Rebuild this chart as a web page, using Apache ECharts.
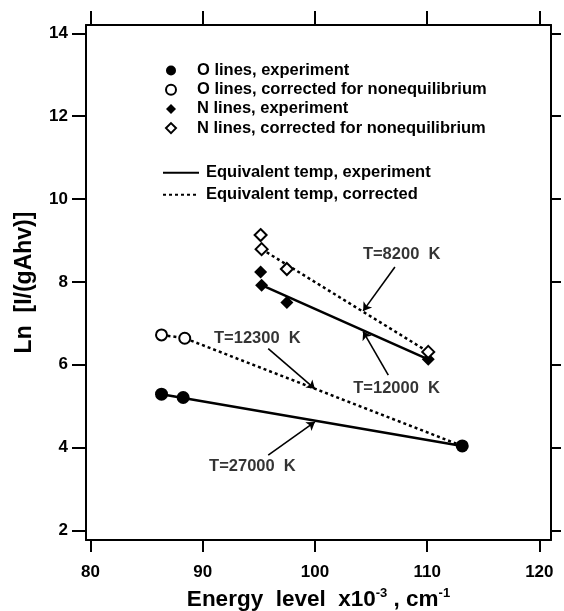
<!DOCTYPE html>
<html><head><meta charset="utf-8">
<script src="https://cdn.jsdelivr.net/npm/echarts@6/dist/echarts.min.js"></script>
<style>html,body{margin:0;padding:0;background:#fff}#c{width:564px;height:611px}</style>
</head><body><div id="c"></div>
<script>
// Tick values
const xTicks = [80, 90, 100, 110, 120];
const yTicks = [2, 4, 6, 8, 10, 12, 14];

// Series names
const nameOExp = 'O lines, experiment';
const nameOCor = 'O lines, corrected for nonequilibrium';
const nameNExp = 'N lines, experiment';
const nameNCor = 'N lines, corrected for nonequilibrium';
const nameTExp = 'Equivalent temp, experiment';
const nameTCor = 'Equivalent temp, corrected';

// Measured points (energy level x1e-3 cm^-1, Ln[I/(gAhv)])
const oExpX = [86.33, 88.26, 113.13];
const oExpY = [5.29, 5.21, 4.04];
const oCorX = [86.33, 88.4];
const oCorY = [6.72, 6.64];
const nExpX = [95.16, 95.25, 97.5, 110.1];
const nExpY = [8.24, 7.92, 7.5, 6.13];
const nCorX = [95.16, 95.25, 97.5, 110.1];
const nCorY = [9.13, 8.79, 8.31, 6.31];

// Equivalent-temperature fit lines
const fitOExpX = [86.33, 113.13];
const fitOExpY = [5.29, 4.04];
const fitNExpX = [95.25, 110.1];
const fitNExpY = [7.92, 6.13];
const fitOCorX = [86.33, 88.4, 113.13];
const fitOCorY = [6.72, 6.64, 4.04];
const fitNCorX = [95.25, 110.1];
const fitNCorY = [8.79, 6.31];

// Annotations
const annText = ['T=8200  K', 'T=12000  K', 'T=12300  K', 'T=27000  K'];
const annX = [107.73, 107.28, 94.87, 94.43];
const annY = [8.65, 5.43, 6.64, 3.55];
const arrowFromX = [107.13, 106.54, 95.84, 95.84];
const arrowFromY = [8.36, 5.75, 6.39, 3.82];
const arrowToX = [104.3, 104.3, 100.0, 100.0];
const arrowToY = [7.30, 6.80, 5.42, 4.62];

const zip = (xs, ys) => xs.map((x, i) => [x, ys[i]]);
const FONT = '"Liberation Sans", Arial, Helvetica, sans-serif';
const BLACK = '#000';

const chart = echarts.init(document.getElementById('c'), null, {renderer: 'canvas'});

const axisCommon = {
  type: 'value',
  splitLine: {show: false},
  axisLine: {show: true, onZero: false, lineStyle: {color: BLACK, width: 2}},
};

const option = {
  backgroundColor: '#fff',
  animation: false,
  grid: {left: 86, right: 13, top: 25, bottom: 71, containLabel: false, outerBoundsMode: 'none'},
  legend: [
    {
      data: [nameOExp, nameOCor, nameNExp, nameNCor],
      orient: 'vertical', left: 165, top: 62,
      itemWidth: 10, itemHeight: 10, itemGap: 2.2,
      selectedMode: false, padding: 0,
      textStyle: {fontFamily: FONT, fontSize: 16.5, fontWeight: 'bold', color: BLACK, lineHeight: 16, padding: [0, 0, 0, 16]}
    },
    {
      data: [nameTExp, nameTCor],
      orient: 'vertical', left: 162, top: 164.3,
      itemWidth: 36, itemHeight: 10, itemGap: 5,
      selectedMode: false, padding: 0,
      itemStyle: {color: 'transparent', borderColor: 'transparent', borderWidth: 0},
      textStyle: {fontFamily: FONT, fontSize: 16.5, fontWeight: 'bold', color: BLACK, lineHeight: 16, padding: [0, 0, 0, 2]}
    }
  ],
  xAxis: [
    Object.assign({}, axisCommon, {
      position: 'bottom', min: 79.6, max: 121.04,
      axisTick: {show: true, inside: false, length: 12, customValues: xTicks, lineStyle: {color: BLACK, width: 2}},
      axisLabel: {show: true, customValues: xTicks, margin: 24, fontFamily: FONT, fontSize: 17, fontWeight: 'bold', color: BLACK},
      name: '{a|Energy  level  x10}{s|-3}{a| , cm}{s|-1}',
      nameLocation: 'middle', nameGap: 47,
      nameTextStyle: {
        rich: {
          a: {fontFamily: FONT, fontSize: 22.5, fontWeight: 'bold', color: BLACK, lineHeight: 24, verticalAlign: 'bottom'},
          s: {fontFamily: FONT, fontSize: 13, fontWeight: 'bold', color: BLACK, lineHeight: 14, verticalAlign: 'top'}
        }
      }
    }),
    Object.assign({}, axisCommon, {
      position: 'top', min: 79.6, max: 121.04,
      axisTick: {show: true, inside: false, length: 14, customValues: xTicks, lineStyle: {color: BLACK, width: 2}},
      axisLabel: {show: false}
    })
  ],
  yAxis: [
    Object.assign({}, axisCommon, {
      position: 'left', min: 1.77, max: 14.2,
      axisTick: {show: true, inside: false, length: 14, customValues: yTicks, lineStyle: {color: BLACK, width: 2}},
      axisLabel: {show: true, customValues: yTicks, margin: 18, fontFamily: FONT, fontSize: 17, fontWeight: 'bold', color: BLACK},
      name: 'Ln  [I/(gAhv)]', nameLocation: 'middle', nameGap: 50, nameRotate: 90,
      nameTextStyle: {fontFamily: FONT, fontSize: 23, fontWeight: 'bold', color: BLACK}
    }),
    Object.assign({}, axisCommon, {
      position: 'right', min: 1.77, max: 14.2,
      axisTick: {show: true, inside: false, length: 10, customValues: yTicks, lineStyle: {color: BLACK, width: 2}},
      axisLabel: {show: false}
    })
  ],
  series: [
    {name: nameTExp, type: 'line', data: zip(fitOExpX, fitOExpY), symbol: 'none', z: 2,
     lineStyle: {color: BLACK, width: 2.5, type: 'solid'}, itemStyle: {color: BLACK}},
    {name: nameTExp, type: 'line', data: zip(fitNExpX, fitNExpY), symbol: 'none', z: 2,
     lineStyle: {color: BLACK, width: 2.5, type: 'solid'}, itemStyle: {color: BLACK}},
    {name: nameTCor, type: 'line', data: zip(fitOCorX, fitOCorY), symbol: 'none', z: 2,
     lineStyle: {color: BLACK, width: 2.5, type: [3, 3]}, itemStyle: {color: BLACK}},
    {name: nameTCor, type: 'line', data: zip(fitNCorX, fitNCorY), symbol: 'none', z: 2,
     lineStyle: {color: BLACK, width: 2.5, type: [3, 3]}, itemStyle: {color: BLACK}},
    {name: nameOExp, type: 'scatter', data: zip(oExpX, oExpY), symbol: 'circle', symbolSize: 13, z: 4,
     itemStyle: {color: BLACK, opacity: 1}},
    {name: nameOCor, type: 'scatter', data: zip(oCorX, oCorY), symbol: 'emptyCircle', symbolSize: 11, z: 4,
     itemStyle: {color: BLACK, borderColor: BLACK, borderWidth: 2, opacity: 1}},
    {name: nameNExp, type: 'scatter', data: zip(nExpX, nExpY), symbol: 'diamond', symbolSize: 13, z: 4,
     itemStyle: {color: BLACK, opacity: 1}},
    {name: nameNCor, type: 'scatter', data: zip(nCorX, nCorY), symbol: 'emptyDiamond', symbolSize: 12, z: 4,
     itemStyle: {color: BLACK, borderColor: BLACK, borderWidth: 2, opacity: 1}},
    {
      type: 'lines', coordinateSystem: 'cartesian2d', silent: true, z: 5,
      symbol: ['none', 'arrow'], symbolSize: 8,
      lineStyle: {color: BLACK, width: 1.6, opacity: 1, curveness: 0},
      data: arrowFromX.map((x, i) => ({coords: [[x, arrowFromY[i]], [arrowToX[i], arrowToY[i]]]}))
    },
    {
      type: 'scatter', silent: true, z: 6, symbol: 'circle', symbolSize: 1,
      itemStyle: {color: 'transparent'},
      data: annX.map((x, i) => ({value: [x, annY[i]], label: {formatter: annText[i]}})),
      label: {show: true, position: 'inside', fontFamily: FONT, fontSize: 16.5, fontWeight: 'bold', color: BLACK}
    }
  ]
};
chart.setOption(option);
</script>
</body></html>
